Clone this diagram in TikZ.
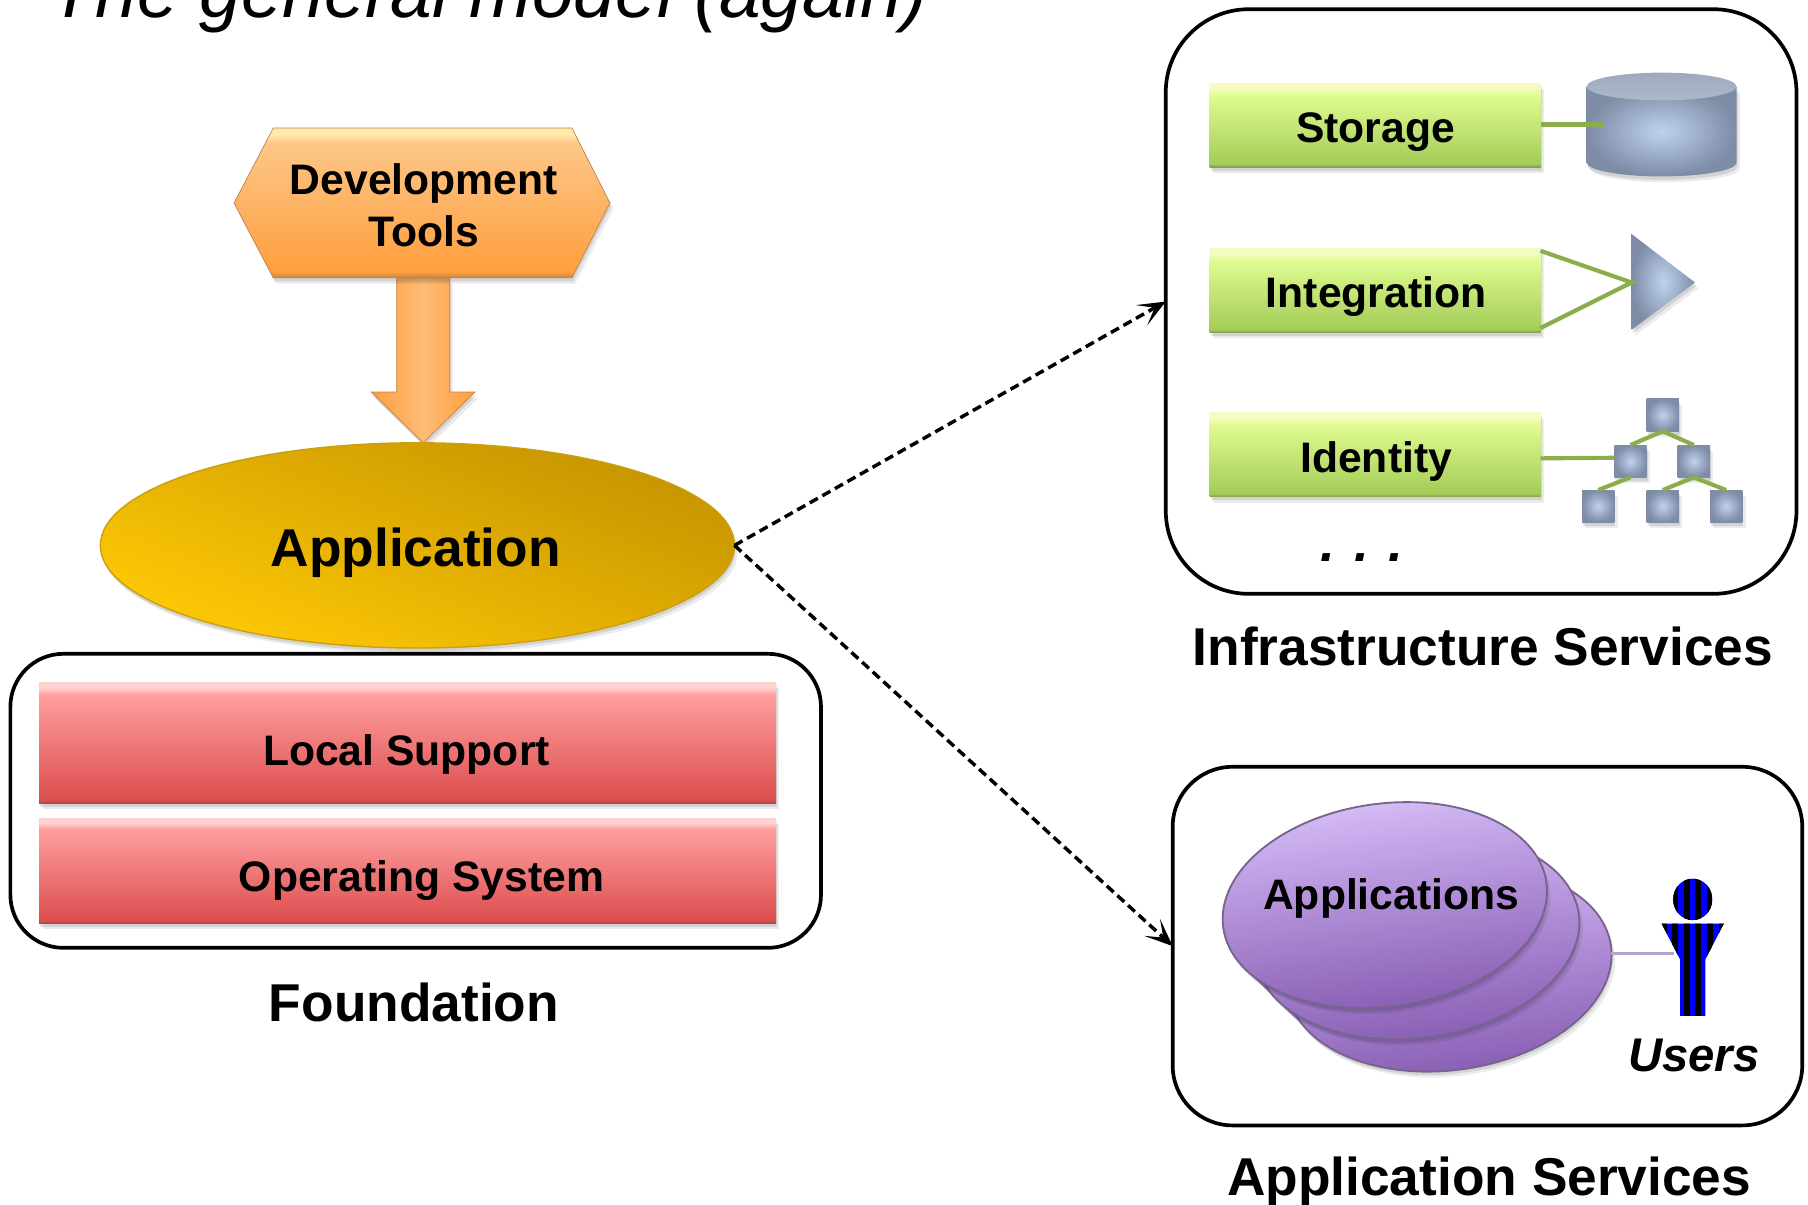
\documentclass[tikz,border=0pt]{standalone}
\usepackage{fontspec}
\setmainfont{Liberation Sans}
\usetikzlibrary{arrows.meta,shapes.geometric,shadows,calc}
\definecolor{gA}{HTML}{F6FBC4}\definecolor{gB}{HTML}{DFFC90}\definecolor{gC}{HTML}{A4CC58}\definecolor{gD}{HTML}{7E9A52}
\definecolor{rA}{HTML}{FFD2D2}\definecolor{rB}{HTML}{FF9E9E}\definecolor{rC}{HTML}{DC4E4E}\definecolor{rD}{HTML}{A84444}
\definecolor{oA}{HTML}{FFEBAE}\definecolor{oB}{HTML}{FDC688}\definecolor{oC}{HTML}{FF9E3E}\definecolor{oD}{HTML}{C08444}
\definecolor{pA}{HTML}{E0C8FA}\definecolor{pB}{HTML}{CDB2F0}\definecolor{pC}{HTML}{8458B0}
\definecolor{metalA}{HTML}{7E8CA6}\definecolor{metalB}{HTML}{BFD2EC}\definecolor{pEdge}{HTML}{75648C}
\definecolor{goldA}{HTML}{FFC905}\definecolor{goldB}{HTML}{C69400}\definecolor{goldEdge}{HTML}{C8A010}
\pgfdeclareverticalshading{greenbarshade}{100bp}{color(0bp)=(gD);color(25bp)=(gD);color(27bp)=(gC);color(68bp)=(gB);color(72bp)=(gA);color(75bp)=(gA);color(100bp)=(gA)}
\pgfdeclareverticalshading{redbarshade}{100bp}{color(0bp)=(rD);color(25bp)=(rD);color(26.5bp)=(rC);color(70bp)=(rB);color(73bp)=(rA);color(75bp)=(rA);color(100bp)=(rA)}
\pgfdeclareverticalshading{orangeshade}{100bp}{color(0bp)=(oD);color(25bp)=(oD);color(27bp)=(oC);color(70bp)=(oB);color(73bp)=(oA);color(75bp)=(oA);color(100bp)=(oA)}
\pgfdeclareverticalshading{purpleshade}{100bp}{color(0bp)=(pC);color(25bp)=(pC);color(68bp)=(pB);color(75bp)=(pA);color(100bp)=(pA)}
\tikzset{
  softshadow/.style={general shadow={fill=black,opacity=.10,shadow xshift=1pt,shadow yshift=-3pt},
                     general shadow={fill=black,opacity=.08,shadow xshift=3pt,shadow yshift=-5pt}},
  panel/.style={draw=black,line width=3.2pt,fill=white,inner sep=0pt,outer sep=0pt},
  bar/.style={inner sep=0pt,outer sep=0pt,softshadow},
  greenbar/.style={bar,shading=greenbarshade,minimum width=287pt,minimum height=73pt},
  redbar/.style={bar,shading=redbarshade,minimum width=639pt},
  lab/.style={anchor=base,inner sep=0pt,font=\fontsize{37}{40}\selectfont\bfseries},
  biglab/.style={anchor=base,inner sep=0pt,font=\fontsize{46.2}{50}\selectfont\bfseries},
  link/.style={draw=gC!85!black,line width=3.6pt},
  metal/.style={inner color=metalB,outer color=metalA},
  flow/.style={line width=3pt,dash pattern=on 8pt off 4.5pt,-{Stealth[length=24pt,width=20pt,inset=13pt]}},
  tile/.style={metal,inner sep=0pt,outer sep=0pt,minimum size=28pt,softshadow},
  plateshape/.style={ellipse,inner sep=0pt,outer sep=0pt,minimum width=283pt,minimum height=176pt,rotate=8,
      shading=purpleshade,shading angle=8},
  plate/.style={plateshape,draw=pEdge,line width=1.6pt,softshadow},
}
\begin{document}
\begin{tikzpicture}[x=1pt,y=-1pt]
\useasboundingbox (0,0) rectangle (1568,1045);
\clip (0,0) rectangle (1568,1045);
\node[anchor=base west,inner sep=0pt,font=\fontsize{64.9}{70}\selectfont\itshape] (title) at (43,15) {The general model (again)};
% ---- development tools
\coordinate (arrowtip) at (367,384);
\path[softshadow,draw=oD,line width=.6pt,left color=oC,right color=oC,middle color=oB!75!oC]
  (344,241) -- (390,241) -- (390,340) -- (412,340) -- (arrowtip) -- (322,340) -- (344,340) -- cycle;
\path[shading=orangeshade,softshadow,draw=oD,line width=.6pt]
  (237,111) -- (496,111) -- (529,176) -- (496,241) -- (237,241) -- (203,176) -- cycle;
\node[lab] (devA) at (367.5,169) {Development};
\node[lab] (devB) at (367.5,214) {Tools};
% ---- application
\node[ellipse,inner sep=0pt,outer sep=0pt,minimum width=550pt,minimum height=178pt,draw=goldEdge,line width=1.2pt,
  softshadow,bottom color=goldA,top color=goldB,shading angle=-22] (application) at (362,473) {};
\node[biglab] (applabel) at (360.5,491) {Application};
% ---- foundation
\node[panel,rounded corners=46pt,minimum width=703pt,minimum height=255pt] (foundation) at (360.5,694.5) {};
\node[redbar,minimum height=105pt] (local) at (353.5,644.5) {};
\node[lab] (localtxt) at (352.5,664) {Local Support};
\node[redbar,minimum height=91pt] (os) at (353.5,755.5) {};
\node[lab] (ostxt) at (365.5,773) {Operating System};
\node[biglab] (foundtxt) at (359,886) {Foundation};
% ---- infrastructure
\node[panel,rounded corners=72pt,minimum width=547pt,minimum height=507pt] (infra) at (1284.5,261.5) {};
\node[greenbar] (storage) at (1192.5,108.5) {};
\node[greenbar] (integration) at (1192.5,252) {};
\node[greenbar] (identity) at (1192.5,394.5) {};
\node[lab] (storetxt) at (1193,124) {Storage};
\node[lab] (integtxt) at (1193.5,267) {Integration};
\node[lab] (identtxt) at (1193.5,410) {Identity};
% cylinder
\path[softshadow,metal]
  (1376,75) -- (1376,141) arc[start angle=180,end angle=360,x radius=65pt,y radius=12pt] -- (1506,75) -- cycle;
\shade[top color=metalA!75!white,bottom color=metalB!70!gray] (1441,75) ellipse[x radius=65pt,y radius=12pt];
\coordinate (cylinder) at (1390,108);
\draw[link] (storage.east |- cylinder) -- (cylinder);
% triangle
\coordinate (gate) at (1415,245);
\path[softshadow,metal] (1415,203) -- (1470,245) -- (1415,286) -- cycle;
\draw[link] ($(integration.north east)+(0,2)$) -- (gate) -- ($(integration.south east)+(0,-4)$);
% tree
\node[tile] (t1) at (1442,360) {};
\node[tile] (t2) at (1414,400) {};
\node[tile] (t3) at (1469,400) {};
\node[tile] (t4) at (1386,439) {};
\node[tile] (t5) at (1442,439) {};
\node[tile] (t6) at (1497,439) {};
\draw[link] (t1.south) -- (t2.north) (t1.south) -- (t3.north) (t2.south) -- (t4.north)
  (t3.south) -- (t5.north) (t3.south) -- (t6.north);
\draw[link] (identity.east) ++(0,3) -- (t2.west |- 0,397);
\node[anchor=base,inner sep=0pt,font=\fontsize{46}{50}\selectfont\bfseries\itshape] (dots) at (1181,487) {. . .};
\node[biglab] (infratxt) at (1286,577) {Infrastructure Services};
% ---- application services
\node[panel,rounded corners=52pt,minimum width=546pt,minimum height=311pt] (appsvc) at (1290,820.5) {};
\begin{scope}
  \clip (1001,585) -- (1407,991) -- (1001,991) -- cycle;
  \foreach \k in {0.1,0.2,...,0.95}
    \node[plateshape] at ({1201+56*\k},{785+55*\k}) {};
\end{scope}
\node[plate] (p3) at (1257,840) {};
\node[plate] (p2) at (1229,812) {};
\node[plate] (p1) at (1201,785) {};
\node[lab] (appstxt) at (1206.5,789) {Applications};
\coordinate (person) at (1452,827);
\draw[draw=pB!70!gray,line width=2.6pt] (p3.east |- person) -- (person);
\begin{scope}
  \clip (1468,780) ellipse[x radius=17pt,y radius=18pt]
        (1441,801) -- (1495,801) -- (1479,832) -- (1479,881) -- (1457,881) -- (1457,832) -- cycle;
  \fill[blue] (1435,755) rectangle (1500,890);
  \foreach \s in {-25,-15,-5,5,15,25}
    \fill[black] (1468+\s-2.6,755) rectangle (1468+\s+2.6,890);
\end{scope}
\node[anchor=base,inner sep=0pt,font=\fontsize{41}{44}\selectfont\bfseries\itshape] (userstxt) at (1469,929) {Users};
\node[biglab] (appsvctxt) at (1291.5,1037) {Application Services};
% ---- connectors
\draw[flow] (application.east) -- (infra.west);
\draw[flow] (application.east) -- (appsvc.west);
\end{tikzpicture}
\end{document}
